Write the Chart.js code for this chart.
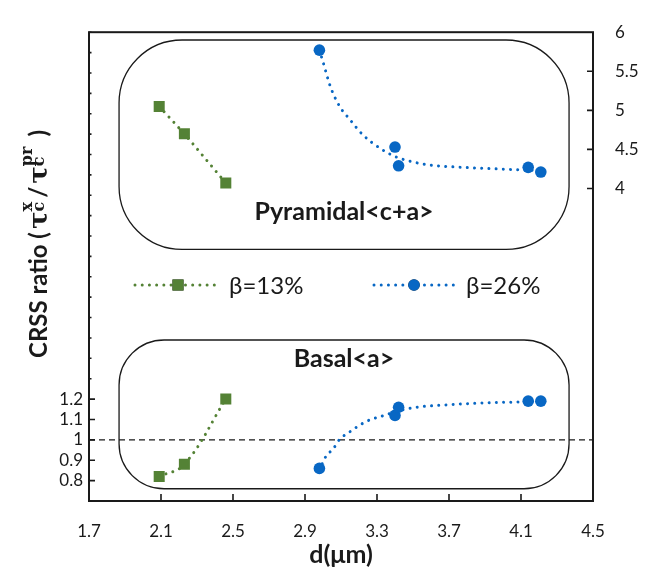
<!DOCTYPE html>
<html>
<head>
<meta charset="utf-8">
<script src="https://cdn.jsdelivr.net/npm/chart.js@4/dist/chart.umd.min.js"></script>
<style>
  html, body { margin: 0; padding: 0; background: #fff; }
  #wrap { width: 667px; height: 573px; position: relative; }
</style>
</head>
<body>
<div id="wrap"><canvas id="c"></canvas></div>
<script>
// Grain size d (µm) and CRSS ratios for the two twin fractions
const d13 = [2.09, 2.23, 2.46];
const pyramidal13 = [5.05, 4.70, 4.07];
const basal13 = [0.82, 0.88, 1.20];

const d26 = [2.98, 3.40, 3.42, 4.14, 4.21];
const pyramidal26 = [5.77, 4.53, 4.29, 4.27, 4.21];
const basal26 = [0.86, 1.12, 1.16, 1.19, 1.19];

// Fitted trend curves for β = 26 %
const fitPyrD = [2.98, 3.00, 3.04, 3.09, 3.15, 3.22, 3.32, 3.41, 3.50, 3.59, 3.78, 3.97, 4.21];
const fitPyr = [5.77, 5.62, 5.31, 5.06, 4.88, 4.69, 4.51, 4.40, 4.34, 4.30, 4.27, 4.25, 4.23];
const fitBasD = [2.98, 3.01, 3.06, 3.09, 3.15, 3.24, 3.34, 3.43, 3.52, 3.71, 3.89, 4.08, 4.21];
const fitBas = [0.85, 0.91, 0.96, 1.00, 1.04, 1.09, 1.12, 1.145, 1.16, 1.173, 1.181, 1.186, 1.19];

// Reference line at ratio = 1
const refD = [1.7, 4.5];
const refRatio = [1, 1];

// Axis ranges and tick labels
const xTicks = [1.7, 2.1, 2.5, 2.9, 3.3, 3.7, 4.1, 4.5];
const leftLabels = ['0.8', '0.9', '1', '1.1', '1.2'];
const rightLabels = ['4', '4.5', '5', '5.5', '6'];

const GREEN = '#548235';
const BLUE = '#0867c4';
const INK = '#1a1a1a';
const FONT = 'Lato, "Open Sans", sans-serif';

const pts = (xs, ys) => xs.map((x, i) => ({ x, y: ys[i] }));
const dotted = { borderWidth: 3, borderDash: [0.01, 7.2], borderCapStyle: 'round' };

const datasets = [
  { label: 'β=13%', data: pts(d13, pyramidal13), yAxisID: 'yR', showLine: true, tension: 0,
    borderColor: GREEN, backgroundColor: GREEN, pointStyle: 'rect', pointRadius: 7.8,
    pointBorderWidth: 0, ...dotted, order: 0 },
  { label: 'β=13%', data: pts(d13, basal13), yAxisID: 'yL', showLine: true, tension: 0.4,
    borderColor: GREEN, backgroundColor: GREEN, pointStyle: 'rect', pointRadius: 7.8,
    pointBorderWidth: 0, ...dotted, order: 0 },
  { label: 'β=26%', data: pts(d26, pyramidal26), yAxisID: 'yR', showLine: false,
    borderColor: BLUE, backgroundColor: BLUE, pointStyle: 'circle', pointRadius: 5.8,
    pointBorderWidth: 0, order: 0 },
  { label: 'β=26% fit', data: pts(fitPyrD, fitPyr), yAxisID: 'yR', showLine: true,
    cubicInterpolationMode: 'monotone', borderColor: BLUE, pointRadius: 0, ...dotted, order: 1 },
  { label: 'β=26%', data: pts(d26, basal26), yAxisID: 'yL', showLine: false,
    borderColor: BLUE, backgroundColor: BLUE, pointStyle: 'circle', pointRadius: 5.8,
    pointBorderWidth: 0, order: 0 },
  { label: 'β=26% fit', data: pts(fitBasD, fitBas), yAxisID: 'yL', showLine: true,
    cubicInterpolationMode: 'monotone', borderColor: BLUE, pointRadius: 0, ...dotted, order: 1 },
  { label: 'ratio 1', data: pts(refD, refRatio), yAxisID: 'yL', showLine: true,
    borderColor: INK, borderWidth: 1.4, borderDash: [6, 4], pointRadius: 0, order: 2 }
];

// Frame, inward tick marks, rounded panels, legend and axis titles
const decor = {
  id: 'decor',
  beforeDatasetsDraw(chart) {
    const { ctx, scales } = chart;
    const x = scales.x, yL = scales.yL, yR = scales.yR;
    ctx.save();
    ctx.strokeStyle = INK;
    ctx.lineWidth = 1.3;
    const panel = (x0, x1, yTop, yBot, r) => {
      const l = x.getPixelForValue(x0), rr = x.getPixelForValue(x1);
      ctx.beginPath();
      ctx.roundRect(l, yTop, rr - l, yBot - yTop, r);
      ctx.stroke();
    };
    panel(1.867, 4.367, yR.getPixelForValue(5.9), yR.getPixelForValue(3.22), 63);
    panel(1.867, 4.367, yL.getPixelForValue(1.49), yL.getPixelForValue(0.76), 45);

    ctx.fillStyle = INK;
    ctx.font = 'bold 25px ' + FONT;
    ctx.textAlign = 'center';
    ctx.textBaseline = 'middle';
    ctx.fillText('Pyramidal<c+a>', 344, 212);
    ctx.fillText('Basal<a>', 344, 359);
    ctx.restore();
  },
  afterDraw(chart) {
    const { ctx, chartArea: a, scales } = chart;
    const x = scales.x, yL = scales.yL, yR = scales.yR;
    ctx.save();
    ctx.strokeStyle = INK;
    ctx.lineWidth = 2;
    ctx.strokeRect(a.left, a.top, a.right - a.left, a.bottom - a.top);

    ctx.lineWidth = 1.6;
    ctx.beginPath();
    xTicks.slice(1, -1).forEach(v => {
      const px = x.getPixelForValue(v);
      ctx.moveTo(px, a.bottom); ctx.lineTo(px, a.bottom - 7);
    });
    yL.ticks.forEach(t => {
      const py = yL.getPixelForValue(t.value);
      const major = leftLabels.includes(String(Math.round(t.value * 10) / 10));
      ctx.moveTo(a.left, py); ctx.lineTo(a.left + (major ? 6 : 2.5), py);
    });
    yR.ticks.forEach(t => {
      const lab = String(Math.round(t.value * 10) / 10);
      if (!rightLabels.includes(lab) || t.value >= 6) return;
      const py = yR.getPixelForValue(t.value);
      ctx.moveTo(a.right, py); ctx.lineTo(a.right - 6, py);
    });
    ctx.stroke();

    // legend
    const items = [
      { ds: chart.data.datasets[0], x0: 135, x1: 219, mx: 178, tx: 229 },
      { ds: chart.data.datasets[2], x0: 374, x1: 457, mx: 414, tx: 466 }
    ];
    const ly = 285;
    items.forEach(it => {
      ctx.save();
      ctx.strokeStyle = it.ds.borderColor;
      ctx.lineWidth = 3;
      ctx.lineCap = 'round';
      ctx.setLineDash([0.01, 7.2]);
      ctx.beginPath(); ctx.moveTo(it.x0, ly); ctx.lineTo(it.x1, ly); ctx.stroke();
      ctx.restore();
      Chart.helpers.drawPoint(ctx, {
        pointStyle: it.ds.pointStyle, radius: it.ds.pointRadius, borderWidth: 0, rotation: 0
      }, it.mx, ly);
      ctx.fillStyle = it.ds.backgroundColor;
      ctx.fill();
      ctx.fillStyle = INK;
      ctx.font = '24px ' + FONT;
      ctx.textAlign = 'left';
      ctx.textBaseline = 'middle';
      ctx.fillText(it.ds.label, it.tx, ly + 1);
    });

    // x title
    ctx.fillStyle = INK;
    ctx.font = 'bold 25px ' + FONT;
    ctx.textAlign = 'center';
    ctx.textBaseline = 'middle';
    ctx.fillText('d(μm)', (a.left + a.right) / 2, 555);

    // y title, rotated
    ctx.save();
    ctx.translate(47, 358);
    ctx.rotate(-Math.PI / 2);
    ctx.textAlign = 'left';
    ctx.textBaseline = 'alphabetic';
    const main = 'bold 24px ' + FONT;
    const greek = 'bold 26px "DejaVu Serif", "Liberation Serif", serif';
    const script = 'bold 16px "DejaVu Serif", "Liberation Serif", serif';
    let px = 0;
    const put = (txt, font, dy, adv) => {
      ctx.font = font;
      ctx.fillText(txt, px, dy);
      if (adv) px += ctx.measureText(txt).width;
      return ctx.measureText(txt).width;
    };
    put('CRSS ratio (', main, 0, true);
    px += 3;
    put('τ', greek, 0, true);
    let w1 = put('c', script, -3, false);
    let w2 = put('x', script, -15, false);
    px += Math.max(w1, w2) + 4;
    put('/', main, 0, true);
    px += 3;
    put('τ', greek, 0, true);
    w1 = put('c', script, -3, false);
    w2 = put('pr', script, -15, false);
    px += Math.max(w1, w2) + 10;
    put(')', main, 0, true);
    ctx.restore();
    ctx.restore();
  }
};

new Chart(document.getElementById('c'), {
  type: 'scatter',
  data: { datasets },
  options: {
    responsive: true,
    maintainAspectRatio: false,
    animation: false,
    layout: { padding: { top: 14, left: 0, right: 0, bottom: 0 } },
    plugins: { legend: { display: false }, tooltip: { enabled: false } },
    scales: {
      x: {
        type: 'linear', position: 'bottom', min: xTicks[0], max: xTicks[xTicks.length - 1],
        afterBuildTicks: s => { s.ticks = xTicks.map(v => ({ value: v })); },
        afterFit: s => { s.height = 72; },
        grid: { display: false, drawTicks: false }, border: { display: false },
        ticks: { padding: 20, color: INK, font: { family: FONT, size: 17 },
                 callback: v => String(Math.round(v * 10) / 10) }
      },
      yL: {
        type: 'linear', position: 'left', min: 0.7, max: 3.0,
        ticks: { stepSize: 0.1, autoSkip: false, padding: 6, color: INK,
                 font: { family: FONT, size: 17 },
                 callback: v => { const s = String(Math.round(v * 10) / 10); return leftLabels.includes(s) ? s : ''; } },
        afterFit: s => { s.width = 89; },
        grid: { display: false, drawTicks: false }, border: { display: false }
      },
      yR: {
        type: 'linear', position: 'right', min: 0, max: 6,
        ticks: { stepSize: 0.5, autoSkip: false, padding: 22, color: INK,
                 font: { family: FONT, size: 17 },
                 callback: v => { const s = String(Math.round(v * 10) / 10); return rightLabels.includes(s) ? s : ''; } },
        afterFit: s => { s.width = 74; },
        grid: { display: false, drawTicks: false }, border: { display: false }
      }
    }
  },
  plugins: [decor]
});
</script>
</body>
</html>
